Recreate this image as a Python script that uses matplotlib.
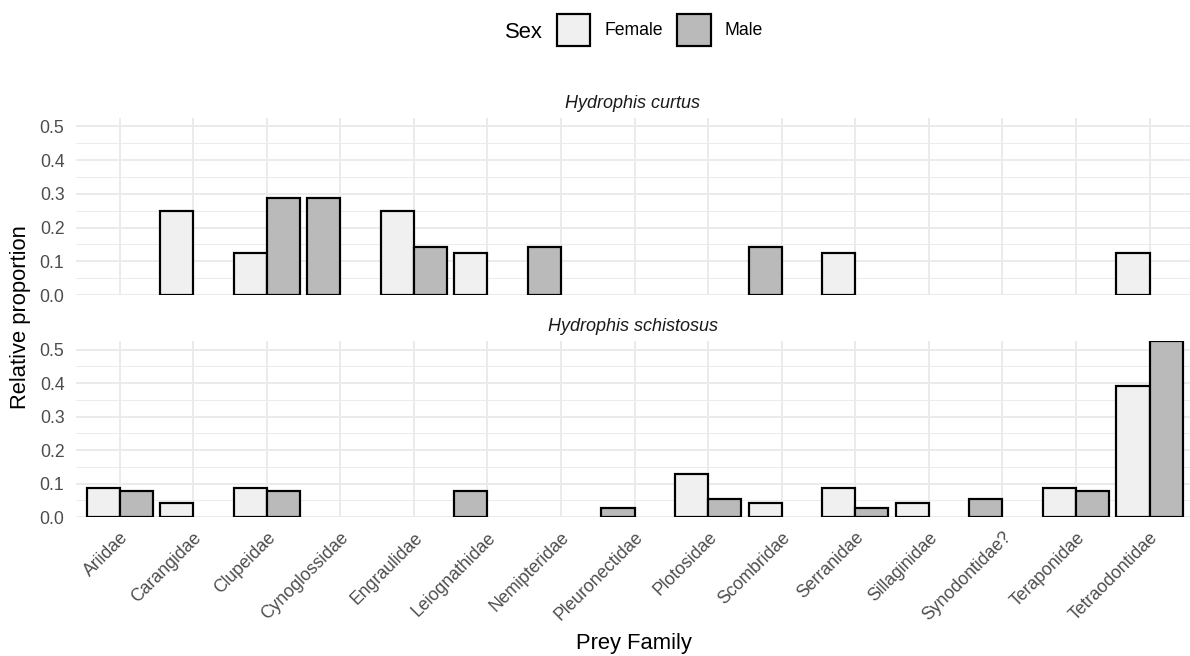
import numpy as np
import matplotlib
matplotlib.use("Agg")
import matplotlib.pyplot as plt
from matplotlib.patches import Patch

plt.rcParams['font.family'] = ['Liberation Sans', 'DejaVu Sans']

# prey families (x axis)
families = ["Ariidae", "Carangidae", "Clupeidae", "Cynoglossidae", "Engraulidae",
            "Leiognathidae", "Nemipteridae", "Pleuronectidae", "Plotosidae",
            "Scombridae", "Serranidae", "Sillaginidae", "Synodontidae?",
            "Teraponidae", "Tetraodontidae"]

# relative proportions, None = no record
curtus_female = [None, 0.25, 0.125, None, 0.25, 0.125, None, None, None,
                 None, 0.125, None, None, None, 0.125]
curtus_male = [None, None, 0.286, 0.286, 0.143, None, 0.143, None, None,
               0.143, None, None, None, None, None]
schist_female = [0.087, 0.043, 0.087, None, None, None, None, None, 0.130,
                 0.043, 0.087, 0.043, None, 0.087, 0.391]
schist_male = [0.079, None, 0.079, None, None, 0.079, None, 0.026, 0.053,
               None, 0.026, None, 0.053, 0.079, 0.526]

species = ["Hydrophis curtus", "Hydrophis schistosus"]
sexes = ["Female", "Male"]
fills = {"Female": "#F0F0F0", "Male": "#BABABA"}

W, H, DPI = 1190, 656, 144
fig = plt.figure(figsize=(W / DPI, H / DPI), dpi=DPI)

grid_col = "#EBEBEB"
text_col = "#4D4D4D"
bw = 0.45

ymax = max(v for s in (curtus_female, curtus_male, schist_female, schist_male)
           for v in s if v is not None)

panels = [(species[0], curtus_female, curtus_male, 117.5, 295),
          (species[1], schist_female, schist_male, 341, 517)]

x = np.arange(len(families))
for k, (name, fem, mal, top, bot) in enumerate(panels):
    ax = fig.add_axes([75.5 / W, 1 - bot / H, (W - 75.5) / W, (bot - top) / H])
    for i in x:
        vals = [("Female", fem[i]), ("Male", mal[i])]
        vals = [(s, v) for s, v in vals if v is not None]
        # dodge with preserve="single": a lone bar sits in the left slot
        if len(vals) == 2:
            offs = [-bw / 2, bw / 2]
        else:
            offs = [-bw / 2]
        for (s, v), o in zip(vals, offs):
            ax.bar(i + o, v, width=bw, color=fills[s], edgecolor="black",
                   linewidth=1.1, zorder=3)
    ax.set_xlim(-0.6, len(families) - 1 + 0.55)
    ax.set_ylim(0, ymax)
    ax.set_yticks(np.arange(0, 0.51, 0.1))
    ax.set_yticks(np.arange(0.05, 0.51, 0.1), minor=True)
    ax.set_yticklabels([f"{v:.1f}" for v in np.arange(0, 0.51, 0.1)],
                       fontsize=8.8, color=text_col)
    ax.set_xticks(x)
    ax.grid(True, which="major", color=grid_col, linewidth=1.0, zorder=0)
    ax.grid(True, which="minor", axis="y", color=grid_col, linewidth=0.5, zorder=0)
    ax.tick_params(which="both", length=0)
    ax.tick_params(axis="y", pad=5.5)
    for sp in ax.spines.values():
        sp.set_visible(False)
    ax.set_title(name, fontsize=9.0, style="italic", color="#1A1A1A", pad=5)
    if k == 1:
        ax.set_xticklabels(families, rotation=45, ha="right", va="top",
                           rotation_mode="anchor", fontsize=8.8, color=text_col)
        ax.tick_params(axis="x", pad=6)
    else:
        ax.set_xticklabels([])

fig.text(21 / W, 1 - 317 / H, "Relative proportion", rotation=90,
         ha="center", va="center", fontsize=11)
fig.text(634 / W, 1 - 643 / H, "Prey Family", ha="center", va="center", fontsize=11)

# legend
fig.text(505 / W, 1 - 32 / H, "Sex", ha="left", va="center", fontsize=11)
handles = [Patch(facecolor=fills[s], edgecolor="black", linewidth=1.1) for s in sexes]
fig.legend(handles, sexes, loc="center left", bbox_to_anchor=(557 / W, 1 - 30 / H),
           ncol=2, frameon=False, fontsize=8.8, handlelength=1.9, handleheight=2.5,
           handletextpad=0.8, columnspacing=0.8, borderpad=0, borderaxespad=0)

fig.savefig("out.png", dpi=DPI)
